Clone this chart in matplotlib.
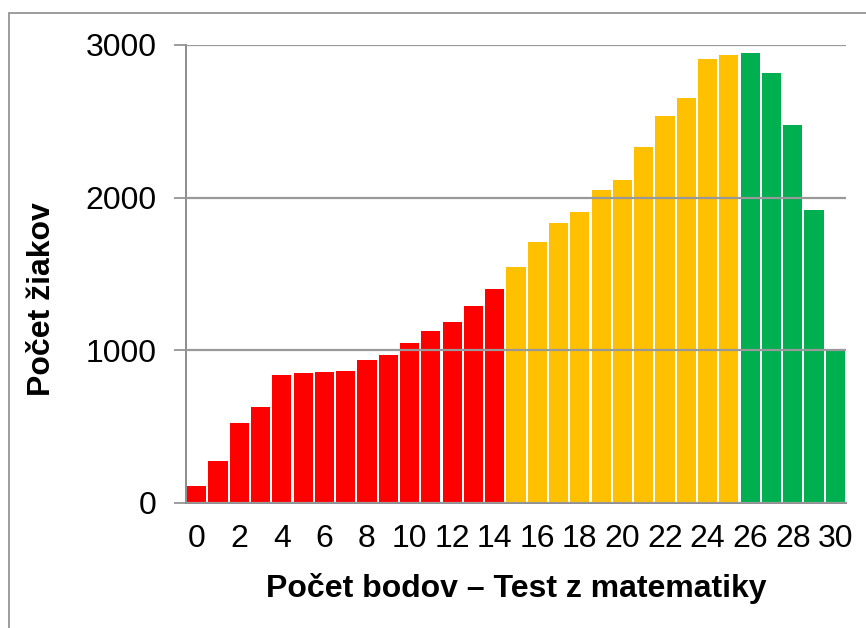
import matplotlib
matplotlib.use("Agg")
import matplotlib.pyplot as plt
from matplotlib.patches import Rectangle

plt.rcParams['font.family'] = ['Liberation Sans', 'DejaVu Sans']

# pocet bodov a pocet ziakov
body = list(range(31))
ziaci = [110, 275, 527, 631, 836, 849, 856, 862, 934, 967,
         1046, 1126, 1185, 1288, 1404, 1544, 1707, 1832, 1904, 2048,
         2113, 2329, 2532, 2650, 2906, 2932, 2945, 2814, 2473, 1917, 1000]
hranica_zlta = 15
hranica_zelena = 26
farby_pasiem = ['#FF0000', '#FFC000', '#00B050']

y_ticks = [0, 1000, 2000, 3000]
x_ticks = list(range(0, 31, 2))


def farba(b):
    if b < hranica_zlta:
        return farby_pasiem[0]
    if b < hranica_zelena:
        return farby_pasiem[1]
    return farby_pasiem[2]


fig = plt.figure(figsize=(8.66, 6.28), dpi=100)
ax = fig.add_axes([186/866, 1-503/628, 660/866, 458/628])

ax.bar(body, ziaci, width=0.9, color=[farba(b) for b in body], zorder=1)

ax.set_xlim(-0.5, 30.5)
ax.set_ylim(0, 3000)
ax.set_yticks(y_ticks)
ax.set_xticks(x_ticks)
ax.tick_params(axis='y', length=9, width=1.2, color='#8C8C8C', pad=12, labelsize=23)
ax.tick_params(axis='x', length=0, pad=15, labelsize=23)

ax.set_axisbelow(False)
ax.grid(axis='y', color='#999999', linewidth=1.6, zorder=3)
for s in ['top', 'right']:
    ax.spines[s].set_visible(False)
for s in ['left', 'bottom']:
    ax.spines[s].set_color('#8C8C8C')
    ax.spines[s].set_linewidth(1.4)

fig.text(516/866, 1-596.7/628, 'Počet bodov – Test z matematiky', ha='center',
         va='baseline', fontsize=23, fontweight='bold')
fig.text(42/866, 1-299/628, 'Počet žiakov', ha='center', va='center',
         rotation=90, fontsize=23, fontweight='bold')

# ramik okolo grafu
fig.patches.append(Rectangle((8.5/866, -0.1), 1.2, 1-13.5/628+0.1,
                             transform=fig.transFigure, fill=False,
                             edgecolor='#8C8C8C', linewidth=1.2))

fig.savefig('out.png', dpi=100)
